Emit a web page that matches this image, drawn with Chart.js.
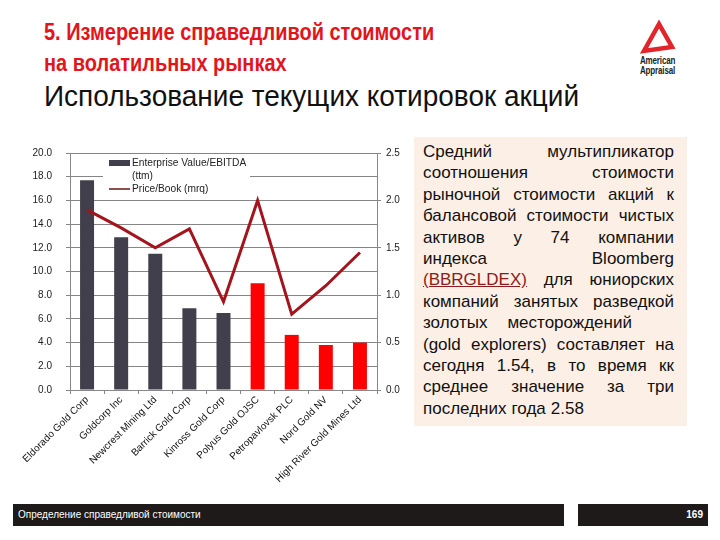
<!DOCTYPE html>
<html>
<head>
<meta charset="utf-8">
<script src="https://cdn.jsdelivr.net/npm/chart.js@4.4.1/dist/chart.umd.min.js"></script>
<style>
    html, body { margin: 0; padding: 0; background: #fff; }
    #slide { position: relative; width: 720px; height: 540px; overflow: hidden; font-family: "Liberation Sans", Arial, sans-serif; }
    .title { position: absolute; left: 44px; white-space: nowrap; line-height: 1; transform-origin: 0 0; }
    .t-red { color: #e3151c; font-weight: bold; font-size: 23.5px; transform: scaleX(0.85); }
    .t-black { color: #111; font-size: 29px; transform: scaleX(0.965); }
    #chartBox { position: absolute; left: 0; top: 133px; width: 420px; height: 367px; }
    #note { position: absolute; left: 414px; top: 137px; width: 273px; height: 289px; background: #fcefe6; }
    #note .ln { position: absolute; left: 9px; width: 251px; display: flex; justify-content: space-between; font-size: 17px; color: #111; white-space: nowrap; }
    #note .ln.loose { justify-content: flex-start; gap: 20px; }
    #note .ln.last { justify-content: flex-start; gap: 5px; }
    #note .lnk { color: #8e1b1b; text-decoration: underline; }
    .foot { position: absolute; top: 504px; height: 22px; background: #1e1a1a; color: #fff; font-size: 10px; line-height: 22px; }
    .logo-txt { position: absolute; left: 636px; width: 40px; text-align: center; font-size: 10px; font-weight: bold; color: #222; line-height: 1; transform: scaleX(0.8); transform-origin: 50% 0; letter-spacing: -0.2px; }
</style>
</head>
<body>
<div id="slide">
    <div class="title t-red" style="top:21px">5. Измерение справедливой стоимости</div>
    <div class="title t-red" style="top:52px">на волатильных рынках</div>
    <div class="title t-black" style="top:82px">Использование текущих котировок акций</div>

    <!-- logo -->
    <svg style="position:absolute;left:636px;top:20px" width="40" height="36" viewBox="0 0 40 36">
        <path d="M23 4 L8 31 L36 27 Z" fill="none" stroke="#e2252b" stroke-width="4.5" stroke-linejoin="miter"/>
    </svg>
    <div class="logo-txt" style="top:56px">American</div>
    <div class="logo-txt" style="top:66px">Appraisal</div>

    <div id="chartBox"><canvas id="multChart"></canvas></div>

    <div id="note"></div>

    <div class="foot" style="left:13px;width:551px;padding-left:5px;box-sizing:border-box">Определение справедливой стоимости</div>
    <div class="foot" style="left:578px;width:130px;text-align:right;padding-right:5px;box-sizing:border-box;font-weight:bold">169</div>
</div>

<script>
// data
const companies = [
    'Eldorado Gold Corp', 'Goldcorp Inc', 'Newcrest Mining Ltd', 'Barrick Gold Corp',
    'Kinross Gold Corp', 'Polyus Gold OJSC', 'Petropavlovsk PLC', 'Nord Gold NV',
    'High River Gold Mines Ltd'
];
const evEbitda = [17.7, 12.9, 11.5, 6.9, 6.5, 9.0, 4.65, 3.8, 4.0];
const priceBook = [1.90, 1.71, 1.50, 1.70, 0.93, 2.00, 0.80, 1.10, 1.45];
// first five are majors (grey), rest are russian companies (red)
const barColors = ['#403f4b', '#403f4b', '#403f4b', '#403f4b', '#403f4b', '#ff0000', '#ff0000', '#ff0000', '#ff0000'];
const leftTicks = [0, 2, 4, 6, 8, 10, 12, 14, 16, 18, 20];
const rightTicks = [0, 0.5, 1.0, 1.5, 2.0, 2.5];
const legendLabels = ['Enterprise Value/EBITDA', '(ttm)', 'Price/Book (mrq)'];

const noteLines = [
    ['Средний', 'мультипликатор'],
    ['соотношения', 'стоимости'],
    ['рыночной', 'стоимости', 'акций', 'к'],
    ['балансовой', 'стоимости', 'чистых'],
    ['активов', 'у', '74', 'компании'],
    ['индекса', 'Bloomberg'],
    ['<span class="lnk">(BBRGLDEX)</span>', 'для', 'юниорских'],
    ['компаний', 'занятых', 'разведкой'],
    ['золотых', 'месторождений'],
    ['(gold', 'explorers)', 'составляет', 'на'],
    ['сегодня', '1.54,', 'в', 'то', 'время', 'кк'],
    ['среднее', 'значение', 'за', 'три'],
    ['последних', 'года', '2.58']
];

// note box
const note = document.getElementById('note');
noteLines.forEach(function (words, i) {
    const div = document.createElement('div');
    let cls = 'ln';
    if (i === noteLines.length - 1) cls += ' last';
    if (i === 8) cls += ' loose';
    div.className = cls;
    div.style.top = (5 + i * 21.4) + 'px';
    div.innerHTML = words.map(w => '<span>' + w + '</span>').join('');
    note.appendChild(div);
});

const FONT = '"Liberation Sans", Arial, sans-serif';

// legend drawn inside plot area, over the grid
const innerLegend = {
    id: 'innerLegend',
    beforeDatasetsDraw(chart) {
        const c = chart.ctx;
        const x0 = chart.chartArea.left + 33;
        const y0 = chart.chartArea.top;
        c.save();
        c.fillStyle = '#fff';
        c.fillRect(x0, y0 + 1, 147, 43);
        c.fillStyle = '#403f4b';
        c.fillRect(x0 + 6, y0 + 7, 21, 6);
        c.strokeStyle = '#6b1414';
        c.lineWidth = 1.5;
        c.beginPath();
        c.moveTo(x0 + 6, y0 + 36);
        c.lineTo(x0 + 27, y0 + 36);
        c.stroke();
        c.fillStyle = '#222';
        c.font = '10.2px ' + FONT;
        c.textBaseline = 'middle';
        c.fillText(legendLabels[0], x0 + 29, y0 + 10);
        c.fillText(legendLabels[1], x0 + 29, y0 + 23);
        c.fillText(legendLabels[2], x0 + 29, y0 + 36);
        c.restore();
    }
};

new Chart(document.getElementById('multChart'), {
    data: {
        labels: companies,
        datasets: [{
            type: 'line',
            label: 'Price/Book (mrq)',
            data: priceBook,
            yAxisID: 'y2',
            borderColor: '#a3141d',
            borderWidth: 3,
            pointRadius: 0,
            tension: 0,
            order: 0
        }, {
            type: 'bar',
            label: 'Enterprise Value/EBITDA (ttm)',
            data: evEbitda,
            yAxisID: 'y',
            backgroundColor: barColors,
            barPercentage: 0.82,
            categoryPercentage: 0.5,
            order: 1
        }]
    },
    options: {
        responsive: true,
        maintainAspectRatio: false,
        animation: false,
        layout: { padding: { top: 5, left: 0, right: 0, bottom: 0 } },
        plugins: {
            legend: { display: false },
            tooltip: { enabled: false }
        },
        scales: {
            x: {
                grid: { display: true, drawOnChartArea: false, color: '#888', tickLength: 4, offset: true },
                border: { color: '#888' },
                ticks: {
                    color: '#111',
                    font: { family: FONT, size: 10 },
                    minRotation: 45,
                    maxRotation: 45,
                    autoSkip: false,
                    padding: 0
                },
                afterFit: function (scale) { scale.height = 110; }
            },
            y: {
                position: 'left',
                min: 0,
                max: 20,
                afterBuildTicks: function (scale) { scale.ticks = leftTicks.map(v => ({ value: v })); },
                grid: { color: '#858585', tickLength: 4 },
                border: { color: '#888' },
                ticks: {
                    color: '#222',
                    font: { family: FONT, size: 10 },
                    padding: 14,
                    callback: v => v.toFixed(1)
                },
                afterFit: function (scale) { scale.width = 70; }
            },
            y2: {
                position: 'right',
                min: 0,
                max: 2.5,
                afterBuildTicks: function (scale) { scale.ticks = rightTicks.map(v => ({ value: v })); },
                grid: { drawOnChartArea: false, color: '#888', tickLength: 4 },
                border: { color: '#888' },
                ticks: {
                    color: '#222',
                    font: { family: FONT, size: 10 },
                    padding: 5,
                    callback: v => v.toFixed(1)
                },
                afterFit: function (scale) { scale.width = 43; }
            }
        }
    },
    plugins: [innerLegend]
});
</script>
</body>
</html>
